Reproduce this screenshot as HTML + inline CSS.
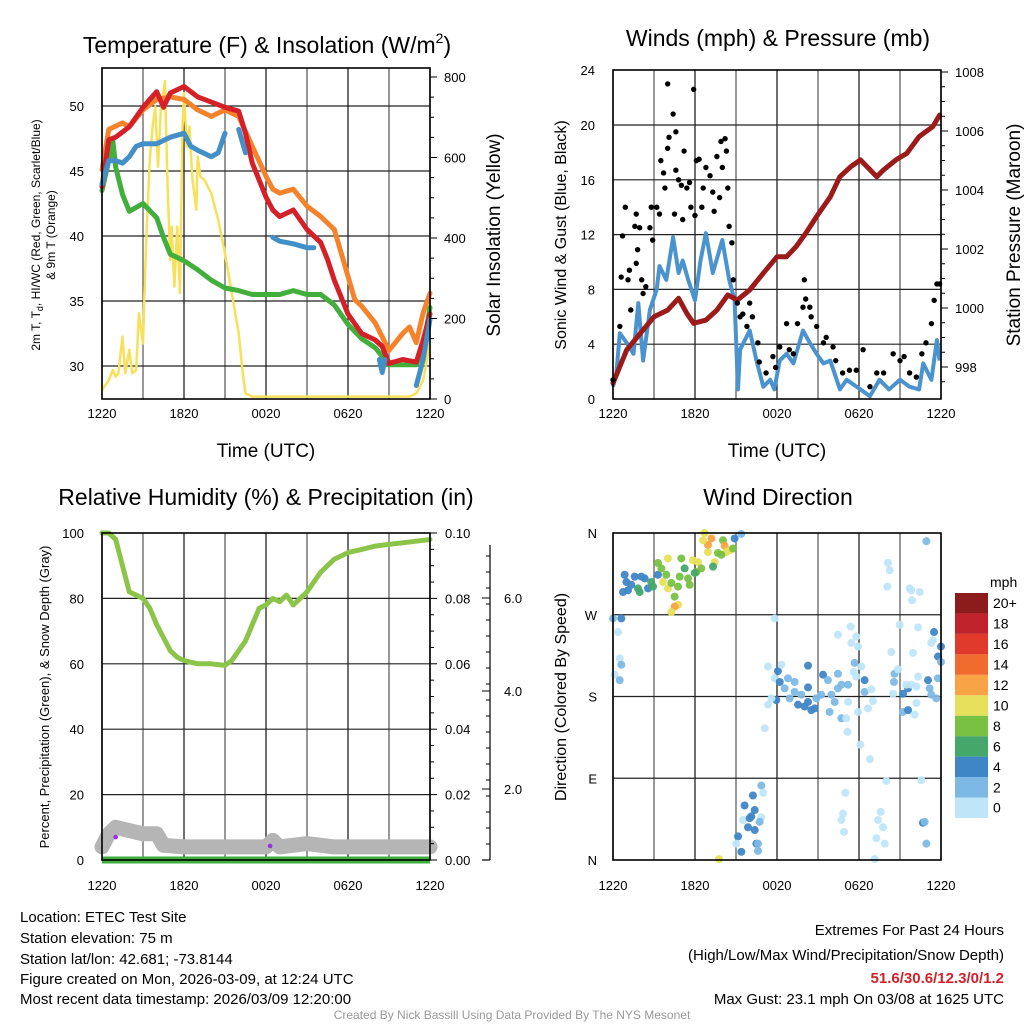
<!DOCTYPE html>
<html><head><meta charset="utf-8"><style>
body{margin:0;background:#fff;}
svg{display:block;font-family:"Liberation Sans",sans-serif;}
</style></head><body>
<svg id="c" width="1024" height="1024" viewBox="0 0 1024 1024" xmlns="http://www.w3.org/2000/svg">
<text x="267" y="53" font-size="23" text-anchor="middle">Temperature (F) &amp; Insolation (W/m<tspan font-size="14" dy="-10">2</tspan><tspan dy="10">)</tspan></text>
<text x="778" y="46" font-size="23" text-anchor="middle">Winds (mph) &amp; Pressure (mb)</text>
<text x="266" y="505" font-size="23" text-anchor="middle">Relative Humidity (%) &amp; Precipitation (in)</text>
<text x="778" y="505" font-size="23" text-anchor="middle">Wind Direction</text>
<text transform="translate(40,235) rotate(-90)" font-size="12" text-anchor="middle">2m T, T<tspan font-size="9" dy="3">d</tspan><tspan dy="-3">, HI/WC (Red, Green, Scarlet/Blue)</tspan></text>
<text transform="translate(55,235) rotate(-90)" font-size="12" text-anchor="middle">&amp; 9m T (Orange)</text>
<text transform="translate(500,235) rotate(-90)" font-size="19" text-anchor="middle">Solar Insolation (Yellow)</text>
<text transform="translate(566,235) rotate(-90)" font-size="16" text-anchor="middle">Sonic Wind &amp; Gust (Blue, Black)</text>
<text transform="translate(1020,235) rotate(-90)" font-size="19" text-anchor="middle">Station Pressure (Maroon)</text>
<text transform="translate(49,697) rotate(-90)" font-size="13" text-anchor="middle">Percent, Precipitation (Green), &amp; Snow Depth (Gray)</text>
<text transform="translate(566,697) rotate(-90)" font-size="16" text-anchor="middle">Direction (Colored By Speed)</text>
<text x="266" y="457" font-size="19" text-anchor="middle">Time (UTC)</text>
<text x="777" y="457" font-size="19" text-anchor="middle">Time (UTC)</text>
<g font-size="15">
<text x="20" y="922">Location: ETEC Test Site</text>
<text x="20" y="943">Station elevation: 75 m</text>
<text x="20" y="964">Station lat/lon: 42.681; -73.8144</text>
<text x="20" y="984">Figure created on Mon, 2026-03-09, at 12:24 UTC</text>
<text x="20" y="1004">Most recent data timestamp: 2026/03/09 12:20:00</text>
</g>
<g font-size="15" text-anchor="end">
<text x="1004" y="935">Extremes For Past 24 Hours</text>
<text x="1004" y="960">(High/Low/Max Wind/Precipitation/Snow Depth)</text>
<text x="1004" y="983" fill="#d0222a" font-weight="bold">51.6/30.6/12.3/0/1.2</text>
<text x="1004" y="1004">Max Gust: 23.1 mph On 03/08 at 1625 UTC</text>
</g>
<text x="512" y="1019" font-size="12" fill="#999" text-anchor="middle">Created By Nick Bassill Using Data Provided By The NYS Mesonet</text>
<text x="990" y="587" font-size="14">mph</text>
</svg>
<script>
// ---------- data ----------
var redT_t=[0,0.5,1,2,3,4,4.5,5,6,7,8,9,10,10.5,11,12,12.5,13,14,15,16,16.5,17,18,19,20,20.5,21,22,23,23.5,24];
var redT_v=[43.8,47.4,47.6,48.4,49.9,51.1,49.9,51,51.5,50.7,50.3,49.9,49.6,47.9,45.6,43,42,41.5,42,40.5,39.5,38.2,36.6,34,32.5,32,31.5,30.2,30.5,30.3,32,34];
var orgT_t=[0,0.5,1.5,2,3,4,5,6,7,8,9,10,11,12,12.5,13,14,15,16,17,18,18.5,19,20,21,22,22.5,23,23.5,24];
var orgT_v=[45.1,48.2,48.7,48.4,49.7,50.5,50.7,50.5,49.7,49.2,49.7,49.2,46.9,44.6,43.6,43.3,43.6,42.3,41.5,40.5,36.9,35.1,34.6,33.3,31.2,32.5,33,31.8,34.1,35.6];
var grnT_t=[0,0.5,0.8,1,1.5,2,3,4,4.5,5,6,7,8,9,10,11,12,13,14,15,16,17,18,19,20,21,22,23,23.5,24];
var grnT_v=[43.5,45.8,47.3,45.3,43.2,41.9,42.5,41.4,39.9,38.6,38.1,37.4,36.6,36,35.8,35.5,35.5,35.5,35.8,35.5,35.5,34.7,33.2,32.1,31.4,30.1,30.1,30.1,31.4,34.5];
var bluT_t=[0,0.5,1,1.5,2,2.5,3,4,5,6,6.5,7,8,8.5,9,9.5,10,10.5,11,12.5,13,14,15,15.5,16,20.3,20.5,20.7,22.5,23,23.5,24];
var bluT_v=[44,45.8,45.8,45.6,46.1,46.9,47.1,47.1,47.6,47.9,46.9,46.6,46.1,46.4,47.9,null,48.2,46.4,null,39.9,39.6,39.4,39.1,39.1,null,30.5,29.5,30.5,null,28.5,30.5,33.6];
var sol_t=[0,0.5,0.8,1,1.2,1.5,1.7,2,2.2,2.5,2.7,3,3.1,3.3,3.5,3.7,3.9,4.1,4.3,4.6,4.8,5,5.1,5.3,5.5,5.7,5.9,6,6.2,6.4,6.6,6.9,7,7.2,7.5,8,8.5,9,9.5,10,10.3,10.5,11,22.5,23,23.5,24];
var sol_v=[22,47,72,55,64,155,64,122,64,72,213,138,263,445,594,677,726,577,718,790,527,345,428,279,428,263,677,760,627,677,552,470,602,552,544,511,445,362,263,163,64,14,6,6,14,47,138];
var pres_t=[0,1,2,3,4,4.8,5.4,5.9,6.8,7.6,8.4,9.1,10,11,12,12.7,13.4,14.1,14.9,15.9,16.6,17.4,18.1,19.3,19.8,20.7,21.5,22.4,23.4,23.9];
var pres_v=[997.45,998.58,999.14,999.7,999.93,1000.33,999.82,999.48,999.59,999.93,1000.44,1000.27,1000.61,1001.18,1001.74,1001.74,1002.08,1002.53,1003.1,1003.77,1004.45,1004.79,1005.02,1004.45,1004.68,1005.02,1005.24,1005.81,1006.15,1006.54];
var wind_t=[0,0.25,0.5,1,1.5,1.85,2.2,2.7,3.2,3.4,3.9,4.4,4.8,5.1,5.5,6,6.4,6.8,7.3,8,8.5,8.9,9.15,9.3,10,10.5,11,11.5,11.8,12.2,12.7,13.2,13.9,14.4,14.9,15.4,15.9,16.6,17.1,18.1,18.8,19.5,20.2,21,21.7,22.4,22.7,23.3,23.7,23.9];
var wind_v=[0.9,1.9,4.8,4.1,3.3,7,2.8,6.5,8,9.7,8.7,11.8,9.2,10.1,8.7,7.2,10.1,12.1,9.2,11.6,8.7,7.2,0.7,3.6,5,2.8,0.9,1.4,0.7,2.8,3.3,2.6,5,4.1,3.3,2.6,2.8,0.7,1.4,0.7,0.2,1.4,0.7,1.4,0.9,0.7,2.6,1.4,4.3,2.8];
var gust_t=[0,0.5,0.9,0.7,0.6,1.2,1.1,1.3,1.7,1.6,1.95,1.8,1.7,2.1,2.2,2.4,2.7,2.8,2.9,3.2,3.4,3.5,3.7,3.8,4.0,4.4,4.1,4.0,4.6,4.6,4.5,4.8,5.0,5.1,5.2,5.4,5.6,5.7,5.9,6.0,6.1,6.3,6.5,6.6,6.8,7.1,7.3,7.4,7.6,7.8,7.9,8.2,8.0,8.3,8.4,8.5,8.7,8.8,9.1,9.3,9.5,9.8,10.0,10.2,10.6,10.7,11.2,11.7,11.9,12.2,12.7,12.9,13.2,13.5,13.9,14.0,14.1,14.4,14.5,14.9,15.4,15.6,16.1,16.3,16.8,17.3,17.8,18.3,18.8,19.3,19.8,20.5,21.0,21.3,21.7,22.2,22.6,22.9,23.3,23.5,23.7,23.9];
var gust_v=[1.4,5.3,14.0,11.9,8.9,9.4,8.7,6.5,13.5,12.6,12.5,10.9,9.9,8.7,7.7,8.2,12.5,14.0,11.6,14.0,13.5,17.4,16.5,15.4,23.0,20.8,19.1,18.3,16.7,19.5,13.5,16.0,15.6,13.1,18.1,15.4,15.8,14.0,22.6,13.4,17.4,17.5,14.0,15.4,16.9,16.3,15.1,13.7,17.7,14.7,18.8,19.0,16.9,18.1,15.4,12.6,11.4,8.7,7.0,6.0,6.2,5.3,7.0,6.0,4.1,2.7,1.9,3.1,2.3,3.8,5.5,3.6,3.3,5.5,6.7,8.7,7.3,6.7,6.0,5.3,4.1,4.5,3.8,2.8,1.9,2.1,2.1,3.6,0.9,1.9,1.9,3.3,2.8,3.1,1.9,1.6,3.3,4.1,5.5,7.2,8.4,8.4];
var rh_t=[0,0.5,1,1.5,2,2.5,3,3.5,4,4.5,5,5.5,6,6.5,7,8,9,9.5,10,10.5,11,11.5,12,12.5,13,13.5,14,14.5,15,15.5,16,17,18,19,20,21,22,23,24];
var rh_v=[100,100,98,90,82,81,80,77,72,68,64,62,61,60.5,60,60,59.5,61,64,67,72,77,78,80,79,81,78,80,82,85,88,92,94,95,96,96.5,97,97.5,98];
var snow_t=[0,0.5,1,2,3,4,4.5,6,8,10,12,12.5,13,15,17,20,24];
var snow_v=[4,8,10,9,8,8,4.5,4,4,4,4,6,4,5,4,4,4];
var precip_t=[0,24];
var precip_v=[0,0];
var purple_t=[1.0,12.3];
var purple_v=[7,4.3];
var dir_t=[0.85,0.98,1.59,0.73,1.1,1.83,1.95,2.32,2.56,2.8,2.93,3.29,2.07,1.34,3.29,3.54,4.02,3.9,3.66,4.02,4.27,4.76,4.51,4.76,4.51,4.27,5.0,4.88,5.24,5.49,5.61,5.85,6.1,6.22,6.46,6.95,6.95,6.7,6.59,7.2,7.44,7.32,7.68,8.05,8.17,8.29,8.54,8.78,8.9,9.39,7.93,5.98,0,0.61,0.37,0.49,0.61,0.12,0.49,11.83,11.34,12.07,12.32,11.83,12.2,12.8,13.29,12.56,11.34,11.95,11.59,12.93,13.29,13.78,13.54,14.02,14.27,14.51,14.76,14.27,14.27,14.88,15.24,15.37,15.73,15.85,16.22,16.46,16.71,15.98,16.46,17.2,17.68,17.8,18.17,18.41,18.41,18.9,19.02,18.66,17.93,17.2,16.71,17.07,17.15,18.1,18.8,11.1,16.46,17.39,17.8,17.44,17.93,17.61,20.6,20.85,20.56,20.49,21.22,21.59,21.46,21.83,22.2,22.32,23.05,23.17,23.29,23.66,23.78,21.22,21.59,22.07,22.2,20.37,21.95,20.98,22.32,23.49,23.41,23.29,24.0,23.78,24.0,20.12,20.24,20.07,21.71,21.83,22.44,21.88,22.93,10.85,10.98,10.24,9.63,10.37,10.12,9.51,10.0,10.85,10.73,9.88,10.37,9.15,9.02,10.49,10.61,9.39,10.61,7.76,17.0,16.83,16.71,16.9,19.15,20.0,19.59,19.39,19.76,19.27,19.88,22.56,22.68,22.8,22.93];
var dir_v=[314,306,312,295,297,299,295,310,299,306,301,314,312,303,327,321,332,314,306,299,305,301,290,281,279,273,332,312,321,310,303,330,317,328,321,339,347,360,352,354,328,323,338,352,346,339,341,343,354,359,336,316,266,266,251,222,215,204,198,266,213,208,215,200,196,200,196,189,171,176,178,178,185,182,171,169,174,165,167,190,214,178,182,204,198,163,174,189,193,182,205,193,217,202,213,198,185,188,175,167,163,174,156,156,141,127,111,145,248,257,246,239,235,207,205,210,196,183,183,189,193,193,191,202,198,189,182,178,200,163,165,160,173,229,228,259,256,251,242,239,235,224,218,327,319,301,299,297,295,286,351,82,74,71,60,55,48,44,46,47,42,36,33,26,18,18,18,9,10,1,74,51,44,31,1,87,53,44,36,24,18,88,41,42,18];
var dir_s=[4,4,4,4,4,6,6,4,4,6,6,4,4,4,8,8,10,8,10,10,8,8,8,10,12,10,8,8,6,8,8,10,8,10,8,10,12,10,10,12,10,6,8,8,12,10,10,8,4,2,8,6,2,4,1,1,2,1,2,1,1,4,1,1,4,2,2,2,1,4,1,2,2,2,4,4,4,4,4,4,4,2,2,4,2,2,2,2,2,2,2,2,2,1,1,4,2,1,1,1,1,1,2,1,1,1,1,1,1,1,1,1,1,1,2,1,2,1,4,4,1,1,1,1,4,2,2,2,2,2,4,1,1,1,1,1,1,4,1,1,4,4,2,1,1,1,1,1,1,1,2,2,1,4,4,4,4,1,4,1,2,4,4,4,1,4,2,4,2,10,1,1,1,1,1,1,1,1,1,1,1,1,4,2,2];
var cbar_labels=["0","2","4","6","8","10","12","14","16","18","20+"];
var cbar_colors=["#bfe6f8","#7eb9e5","#3f86c6","#45a86a","#78c143","#e6e05a","#f8a446","#f06b2e","#df3a2c","#c0232b","#8c1b1b"];

// ---------- drawing ----------
var svg=document.getElementById('c'),NS='http://www.w3.org/2000/svg';
function mk(tag,at,parent){var e=document.createElementNS(NS,tag);for(var k in at)e.setAttribute(k,at[k]);(parent||svg).appendChild(e);return e;}
function txt(x,y,s,size,anchor,parent){var t=mk('text',{x:x,y:y,'font-size':size,'text-anchor':anchor||'middle'},parent);t.textContent=s;return t;}
function pathD(ts,vs,fx,fy){var d='',pen=false;for(var i=0;i<ts.length;i++){if(vs[i]===null){pen=false;continue;}d+=(pen?'L':'M')+fx(ts[i]).toFixed(1)+','+fy(vs[i]).toFixed(1);pen=true;}return d;}

function panel(name,x0,x1,y0,y1,vlines,hvals,fy){
  var g=mk('g',{});
  
  
  for(var i=0;i<=8;i++){var x=x0+(x1-x0)*i/8;var l=mk('line',{x1:x,y1:y0,x2:x,y2:y1,stroke:(i%2?'#555':'#111'),'stroke-width':1.2},g);}
  hvals.forEach(function(v){var y=fy(v);var l=mk('line',{x1:x0,y1:y,x2:x1,y2:y,stroke:'#222','stroke-width':1.2},g);});
  return g;
}
function frame(x0,x1,y0,y1){var r=mk('rect',{x:x0,y:y0,width:x1-x0,height:y1-y0,fill:'none',stroke:'#000','stroke-width':1.6});}
function xlabels(x0,x1,y){var labs=['1220','1820','0020','0620','1220'];labs.forEach(function(s,i){var t=txt(x0+(x1-x0)*i/4,y,s,13);});}

// Panel 1
var P1={x0:102,x1:430,y0:68,y1:399};
var fx1=function(t){return P1.x0+t*(P1.x1-P1.x0)/24;};
var fyT=function(v){return 106+(50-v)*13;};
var fyS=function(v){return 399-v*0.4025;};
panel('temp-grid',P1.x0,P1.x1,P1.y0,P1.y1,8,[30,35,40,45,50],fyT);
[['solar-line',sol_t,sol_v,fyS,'#f7e05a',2.5],['dewpoint-line',grnT_t,grnT_v,fyT,'#42ae3c',5],['orange-9m-temp-line',orgT_t,orgT_v,fyT,'#f5832b',5],['temp-line',redT_t,redT_v,fyT,'#d42027',5],['windchill-line',bluT_t,bluT_v,fyT,'#4390c8',5]].forEach(function(s){var p=mk('path',{d:pathD(s[1],s[2],fx1,s[3]),fill:'none',stroke:s[4],'stroke-width':s[5],'stroke-linejoin':'round','stroke-linecap':'round'});});
frame(P1.x0,P1.x1,P1.y0,P1.y1);
[30,35,40,45,50].forEach(function(v){var t=txt(84,fyT(v)+5,String(v),13,'end');});
for(var v=0;v<=800;v+=50){mk('line',{x1:430,x2:v%200?434:437,y1:fyS(v),y2:fyS(v),stroke:'#000'});}
[0,200,400,600,800].forEach(function(v){var t=txt(444,fyS(v)+5,String(v),13,'start');});
xlabels(P1.x0,P1.x1,418);

// Panel 2
var P2={x0:613,x1:941,y0:70,y1:399};
var fx2=function(t){return P2.x0+t*(P2.x1-P2.x0)/24;};
var fyW=function(v){return 399-v*13.7;};
var fyP=function(v){return 367-(v-998)*29.5;};
panel('wind-grid',P2.x0,P2.x1,P2.y0,P2.y1,8,[4,8,12,16,20],fyW);
var wp=mk('path',{d:pathD(wind_t,wind_v,fx2,fyW),fill:'none',stroke:'#4a93cf','stroke-width':4,'stroke-linejoin':'round'});

var pp=mk('path',{d:pathD(pres_t,pres_v,fx2,fyP),fill:'none',stroke:'#9b1b1b','stroke-width':5,'stroke-linejoin':'round','stroke-linecap':'round'});

for(var i=0;i<gust_t.length;i++){var c=mk('circle',{cx:fx2(gust_t[i]),cy:fyW(gust_v[i]),r:2.7,fill:'#000'});}
frame(P2.x0,P2.x1,P2.y0,P2.y1);
[0,4,8,12,16,20,24].forEach(function(v){var t=txt(595,fyW(v)+5,String(v),13,'end');});
for(var v=997.5;v<=1008;v+=0.5){mk('line',{x1:941,x2:(v%2===0)?948:945,y1:fyP(v),y2:fyP(v),stroke:'#000'});}
[998,1000,1002,1004,1006,1008].forEach(function(v){var t=txt(955,fyP(v)+5,String(v),13,'start');});
xlabels(P2.x0,P2.x1,418);

// Panel 3
var P3={x0:102,x1:430,y0:533,y1:860};
var fx3=function(t){return P3.x0+t*(P3.x1-P3.x0)/24;};
var fyR=function(v){return 860-v*3.27;};
panel('rh-grid',P3.x0,P3.x1,P3.y0,P3.y1,8,[20,40,60,80],fyR);
var sp=mk('path',{d:pathD(snow_t,snow_v,fx3,fyR),fill:'none',stroke:'#b5b5b5','stroke-width':15,'stroke-linejoin':'round','stroke-linecap':'round'});

var prp=mk('path',{d:pathD(precip_t,precip_v,fx3,fyR),fill:'none',stroke:'#3fae3f','stroke-width':7});

var rp=mk('path',{d:pathD(rh_t,rh_v,fx3,fyR),fill:'none',stroke:'#8cc44a','stroke-width':5,'stroke-linejoin':'round','stroke-linecap':'round'});

for(var i=0;i<purple_t.length;i++){var c=mk('circle',{cx:fx3(purple_t[i]),cy:fyR(purple_v[i]),r:2.3,fill:'#9b30e0'});}
frame(P3.x0,P3.x1,P3.y0,P3.y1);
[0,20,40,60,80,100].forEach(function(v){var t=txt(84,fyR(v)+5,String(v),13,'end');});
for(var v=0;v<=100;v+=5){mk('line',{x1:430,x2:v%20?434:437,y1:fyR(v),y2:fyR(v),stroke:'#000'});}
['0.00','0.02','0.04','0.06','0.08','0.10'].forEach(function(s,i){var t=txt(445,fyR(i*20)+5,s,13,'start');});
var sa=mk('line',{x1:490,x2:490,y1:545,y2:860,stroke:'#000','stroke-width':1.2});
var snowTicks=[0,2,4,6];var snowY=[860,789,691,598];
for(var y=860;y>=548;y-=16){mk('line',{x1:486,x2:490,y1:y,y2:y,stroke:'#000'});}
mk('line',{x1:482,x2:490,y1:860,y2:860,stroke:'#000','stroke-width':1.2});
[['2.0',789],['4.0',691],['6.0',598]].forEach(function(a){mk('line',{x1:482,x2:490,y1:a[1],y2:a[1],stroke:'#000'});var t=txt(504,a[1]+5,a[0],13,'start');});
xlabels(P3.x0,P3.x1,890);

// Panel 4
var P4={x0:613,x1:941,y0:533,y1:860};
var fx4=function(t){return P4.x0+t*(P4.x1-P4.x0)/24;};
var fyD=function(v){return 860-v*0.9083;};
panel('dir-grid',P4.x0,P4.x1,P4.y0,P4.y1,8,[90,180,270],fyD);
for(var i=0;i<dir_t.length;i++){var ci=Math.min(10,Math.floor(dir_s[i]/2));var c=mk('circle',{cx:fx4(dir_t[i]),cy:fyD(dir_v[i]),r:4,fill:cbar_colors[ci],'fill-opacity':0.95});}
frame(P4.x0,P4.x1,P4.y0,P4.y1);
[['N',0],['E',90],['S',180],['W',270],['N',360]].forEach(function(a){var t=txt(597,fyD(a[1])+5,a[0],13,'end');});
xlabels(P4.x0,P4.x1,890);

// Colorbar
var cbTop=593,cbH=20.45;
for(var i=0;i<11;i++){var y=cbTop+(10-i)*cbH;var r=mk('rect',{x:955,y:y,width:33,height:cbH,fill:cbar_colors[i]});var t=txt(993,y+cbH/2+5,cbar_labels[i],14,'start');}
</script>
</body></html>
